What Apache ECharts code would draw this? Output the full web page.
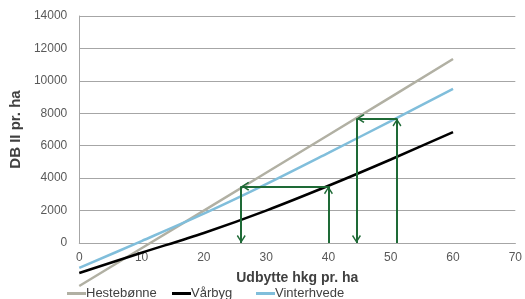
<!DOCTYPE html>
<html>
<head>
<meta charset="utf-8">
<script src="https://cdn.jsdelivr.net/npm/echarts@6/dist/echarts.min.js"></script>
<style>html,body{margin:0;padding:0;background:#fff}#c{width:525px;height:299px}</style>
</head>
<body>
<div id="c"></div>
<script>
// Data
const xValues = [0, 10, 20, 30, 40, 50, 60];
const hestebonne = [-2650, -325, 2000, 4330, 6660, 9000, 11350];
const vaarbyg = [-1850, -600, 620, 2000, 3530, 5150, 6840];
const vinterhvede = [-1540, 120, 1810, 3630, 5560, 7520, 9505];
const seriesNames = ['Hestebønne', 'Vårbyg', 'Vinterhvede'];
const xTicks = { min: 0, max: 70, interval: 10 };
const yTicks = { min: 0, max: 14000, interval: 2000 };
// Arrow segments: [x1, y1, x2, y2]
const arrowSegments = [
  [40, 0, 40, 3500],
  [40, 3500, 26, 3500],
  [26, 3500, 26, 0],
  [51, 0, 51, 7680],
  [51, 7680, 44.5, 7680],
  [44.5, 7680, 44.5, 0]
];

const pair = (xs, ys) => xs.map((x, i) => [x, ys[i]]);
const chevron = 'path://M5,0 L10,7 L8.7,8 L5,2.6 L1.3,8 L0,7 Z M5,-8 L5,-8 Z';
const green = '#1e6a36';
const font = 'Liberation Sans';

const chart = echarts.init(document.getElementById('c'));
const lineColors = ['#b1b0a3', '#000000', '#80bedb'];
const seriesData = [hestebonne, vaarbyg, vinterhvede];
const legendLefts = [62, 167, 251];

chart.setOption({
  animation: false,
  grid: { left: 76, right: 7, top: 16, bottom: 56 },
  legend: seriesNames.map((n, i) => ({
    data: [n],
    left: legendLefts[i], top: 282,
    icon: 'rect', itemWidth: 19, itemHeight: 3,
    textStyle: { fontFamily: font, fontSize: 13, color: '#404040', padding: [0, 0, 0, -5] }
  })),
  xAxis: {
    type: 'value', min: xTicks.min, max: xTicks.max, interval: xTicks.interval,
    name: 'Udbytte hkg pr. ha', nameLocation: 'middle', nameGap: 28,
    nameTextStyle: { fontFamily: font, fontWeight: 'bold', fontSize: 14, color: '#404040' },
    axisLine: { show: true, lineStyle: { color: '#a6a6a6', width: 1 } },
    axisTick: { show: false },
    splitLine: { show: false },
    axisLabel: { fontFamily: font, fontSize: 12, color: '#595959', margin: 9 }
  },
  yAxis: {
    type: 'value', min: yTicks.min, max: yTicks.max, interval: yTicks.interval,
    name: 'DB II pr. ha', nameLocation: 'middle', nameGap: 50,
    nameTextStyle: { fontFamily: font, fontWeight: 'bold', fontSize: 15, color: '#404040' },
    axisLine: { show: true, lineStyle: { color: '#a6a6a6', width: 1 } },
    axisTick: { show: false },
    splitLine: { show: true, lineStyle: { color: '#a6a6a6', width: 1 } },
    axisLabel: { fontFamily: font, fontSize: 12, color: '#595959', margin: 12, formatter: v => String(v) }
  },
  series: seriesNames.map((n, i) => ({
    name: n, type: 'line', data: pair(xValues, seriesData[i]),
    showSymbol: false, symbol: 'none', clip: false, smooth: i === 0 ? false : 0.3,
    lineStyle: { color: lineColors[i], width: 2.5 },
    itemStyle: { color: lineColors[i] },
    z: 3
  })).concat([{
    name: 'arrows', type: 'line', data: [], silent: true, z: 4,
    markLine: {
      silent: true, animation: false,
      symbol: ['none', chevron], symbolSize: [9, 16],
      label: { show: false },
      lineStyle: { color: green, width: 2, type: 'solid' },
      itemStyle: { color: green },
      emphasis: { disabled: true },
      data: arrowSegments.map(s => [{ coord: [s[0], s[1]] }, { coord: [s[2], s[3]] }])
    }
  }])
});
</script>
</body>
</html>
